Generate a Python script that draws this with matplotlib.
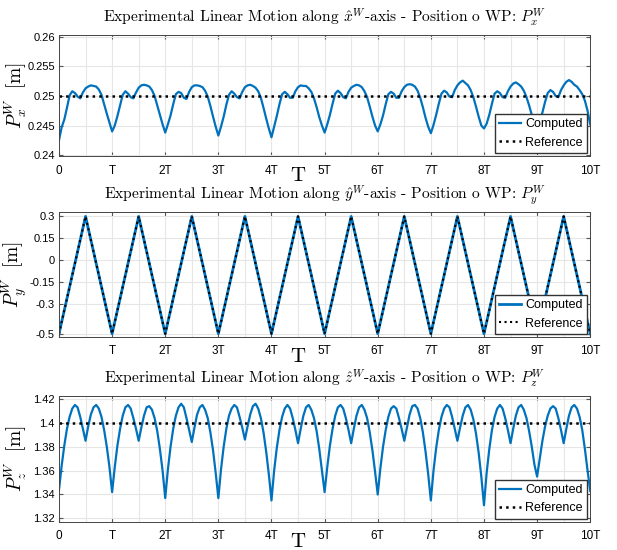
import numpy as np
import matplotlib
matplotlib.use("Agg")
import matplotlib.pyplot as plt
from matplotlib.ticker import MultipleLocator

plt.rcParams['mathtext.fontset'] = 'cm'
plt.rcParams['font.family'] = ['Liberation Sans Narrow', 'Liberation Sans', 'DejaVu Sans']

# time in units of the period T, sampled every 0.05 T
t = np.linspace(0, 10, 201)

# x position [m], one row per period
px = [
    0.2425, 0.2447, 0.2460, 0.2480, 0.2501, 0.2508, 0.2505, 0.2499, 0.2496, 0.2506, 0.2513, 0.2516, 0.2518, 0.2517, 0.2516, 0.2511, 0.2502, 0.2486, 0.2470, 0.2455,
    0.2440, 0.2450, 0.2466, 0.2484, 0.2502, 0.2508, 0.2504, 0.2498, 0.2496, 0.2506, 0.2514, 0.2518, 0.2519, 0.2518, 0.2516, 0.2510, 0.2500, 0.2484, 0.2468, 0.2452,
    0.2438, 0.2452, 0.2467, 0.2486, 0.2503, 0.2507, 0.2505, 0.2497, 0.2495, 0.2507, 0.2515, 0.2518, 0.2518, 0.2517, 0.2515, 0.2509, 0.2499, 0.2483, 0.2465, 0.2448,
    0.2433, 0.2448, 0.2465, 0.2485, 0.2502, 0.2508, 0.2504, 0.2498, 0.2496, 0.2507, 0.2515, 0.2518, 0.2519, 0.2517, 0.2514, 0.2508, 0.2497, 0.2480, 0.2462, 0.2445,
    0.2430, 0.2448, 0.2466, 0.2486, 0.2503, 0.2507, 0.2503, 0.2497, 0.2497, 0.2508, 0.2515, 0.2518, 0.2517, 0.2517, 0.2513, 0.2507, 0.2496, 0.2481, 0.2464, 0.2450,
    0.2438, 0.2452, 0.2468, 0.2487, 0.2504, 0.2509, 0.2505, 0.2498, 0.2496, 0.2507, 0.2514, 0.2517, 0.2519, 0.2518, 0.2515, 0.2508, 0.2498, 0.2482, 0.2465, 0.2450,
    0.2440, 0.2452, 0.2467, 0.2486, 0.2503, 0.2507, 0.2504, 0.2497, 0.2497, 0.2508, 0.2515, 0.2519, 0.2520, 0.2519, 0.2516, 0.2509, 0.2497, 0.2481, 0.2463, 0.2448,
    0.2437, 0.2451, 0.2468, 0.2487, 0.2504, 0.2509, 0.2506, 0.2499, 0.2498, 0.2510, 0.2518, 0.2523, 0.2526, 0.2522, 0.2518, 0.2510, 0.2498, 0.2482, 0.2465, 0.2450,
    0.2445, 0.2453, 0.2468, 0.2487, 0.2504, 0.2508, 0.2505, 0.2498, 0.2497, 0.2508, 0.2516, 0.2521, 0.2523, 0.2520, 0.2516, 0.2509, 0.2498, 0.2484, 0.2468, 0.2455,
    0.2448, 0.2458, 0.2472, 0.2490, 0.2505, 0.2510, 0.2507, 0.2500, 0.2498, 0.2510, 0.2518, 0.2524, 0.2527, 0.2524, 0.2519, 0.2516, 0.2510, 0.2503, 0.2492, 0.2475,
    0.2452,
]
px_ref = 0.25

# y position: triangle between the vertices (every half period)
t_vert = [0, 0.5, 1, 1.5, 2, 2.5, 3, 3.5, 4, 4.5, 5, 5.5, 6, 6.5, 7, 7.5, 8, 8.5, 9, 9.5, 10]
py = [-0.5, 0.3, -0.5, 0.3, -0.5, 0.3, -0.5, 0.3, -0.5, 0.3, -0.5,
      0.3, -0.5, 0.3, -0.5, 0.3, -0.5, 0.3, -0.5, 0.3, -0.5]
py_ref = [-0.5, 0.3, -0.5, 0.3, -0.5, 0.3, -0.5, 0.3, -0.5, 0.3, -0.5,
          0.3, -0.5, 0.3, -0.5, 0.3, -0.5, 0.3, -0.5, 0.3, -0.5]

# z position [m], one row per period
pz = [
    1.344, 1.364, 1.381, 1.395, 1.405, 1.412, 1.415, 1.413, 1.405, 1.395, 1.385, 1.397, 1.407, 1.413, 1.415, 1.412, 1.405, 1.394, 1.380, 1.363,
    1.342, 1.363, 1.381, 1.395, 1.406, 1.413, 1.415, 1.412, 1.404, 1.395, 1.385, 1.396, 1.406, 1.413, 1.414, 1.411, 1.404, 1.393, 1.378, 1.360,
    1.337, 1.361, 1.380, 1.395, 1.406, 1.413, 1.416, 1.413, 1.404, 1.394, 1.384, 1.396, 1.407, 1.413, 1.415, 1.411, 1.404, 1.392, 1.377, 1.358,
    1.337, 1.361, 1.380, 1.395, 1.406, 1.412, 1.415, 1.413, 1.405, 1.396, 1.386, 1.397, 1.407, 1.414, 1.416, 1.412, 1.404, 1.392, 1.376, 1.357,
    1.335, 1.360, 1.379, 1.394, 1.405, 1.412, 1.415, 1.412, 1.404, 1.394, 1.383, 1.395, 1.406, 1.413, 1.415, 1.411, 1.404, 1.393, 1.378, 1.360,
    1.342, 1.363, 1.381, 1.395, 1.406, 1.413, 1.415, 1.412, 1.404, 1.394, 1.383, 1.395, 1.406, 1.413, 1.415, 1.411, 1.404, 1.392, 1.377, 1.359,
    1.340, 1.362, 1.380, 1.394, 1.405, 1.412, 1.414, 1.412, 1.404, 1.395, 1.385, 1.396, 1.407, 1.414, 1.415, 1.412, 1.404, 1.392, 1.376, 1.357,
    1.335, 1.360, 1.379, 1.394, 1.405, 1.412, 1.415, 1.413, 1.405, 1.395, 1.385, 1.396, 1.406, 1.413, 1.415, 1.411, 1.403, 1.391, 1.375, 1.355,
    1.331, 1.358, 1.378, 1.394, 1.405, 1.412, 1.415, 1.412, 1.404, 1.394, 1.383, 1.395, 1.406, 1.413, 1.415, 1.411, 1.404, 1.393, 1.380, 1.365,
    1.355, 1.370, 1.385, 1.397, 1.406, 1.412, 1.414, 1.412, 1.404, 1.394, 1.383, 1.395, 1.406, 1.413, 1.415, 1.412, 1.405, 1.394, 1.378, 1.360,
    1.343,
]
pz_ref = 1.40

tick_pos = [0, 1, 2, 3, 4, 5, 6, 7, 8, 9, 10]
tick_lab = ['0', 'T', '2T', '3T', '4T', '5T', '6T', '7T', '8T', '9T', '10T']

blue = '#0072BD'

fig = plt.figure(figsize=(6.17, 5.5), dpi=100)
ax1 = fig.add_axes([0.0956, 0.716, 0.861, 0.220])
ax2 = fig.add_axes([0.0956, 0.387, 0.861, 0.227])
ax3 = fig.add_axes([0.0956, 0.051, 0.861, 0.229])


def style(ax, title, ylab, labels):
    ax.set_xlim(0, 10)
    ax.set_xticks(tick_pos)
    ax.set_xticklabels(labels)
    ax.xaxis.set_minor_locator(MultipleLocator(0.5))
    ax.grid(True, which='both', color='#e6e6e6', lw=0.8)
    ax.set_axisbelow(True)
    ax.tick_params(which='both', direction='in', top=True, right=True,
                   labelsize=8, color='#555555', length=3, pad=3)
    ax.tick_params(axis='x', pad=6, labelsize=8.5)
    ax.tick_params(which='minor', length=0)
    for s in ax.spines.values():
        s.set_color('#444444')
        s.set_linewidth(0.7)
    ax.set_title(title, fontfamily='cmr10', fontsize=11.2, pad=9)
    ax.set_ylabel(ylab, fontfamily='cmr10', fontsize=14)
    ax.yaxis.set_label_coords(-0.056, 0.5)
    ax.set_xlabel('T', fontfamily='cmr10', fontsize=15)
    ax.xaxis.set_label_coords(0.45, -0.09)
    ax.legend(loc='lower right', fontsize=9, fancybox=False, edgecolor='#333333',
              framealpha=1, borderaxespad=0.25, handlelength=1.8,
              borderpad=0.35, labelspacing=0.5, handletextpad=0.3)


ax1.plot(t, px, color=blue, lw=1.6, label='Computed')
ax1.plot([0, 10], [px_ref, px_ref], color='k', ls=':', lw=1.8, label='Reference')
ax1.set_ylim(0.2398, 0.2603)
ax1.set_yticks([0.24, 0.245, 0.25, 0.255, 0.26])
ax1.set_yticklabels(['0.24', '0.245', '0.25', '0.255', '0.26'])
style(ax1, r'Experimental Linear Motion along $\hat{x}^W$-axis - Position o WP: $P_x^W$',
      r'$P_x^W\ \ [\mathrm{m}]$', tick_lab)

ax2.plot(t_vert, py, color=blue, lw=2.0, label='Computed')
ax2.plot(t_vert, py_ref, color='k', ls=':', lw=1.5, label='Reference')
ax2.set_ylim(-0.523, 0.328)
ax2.set_yticks([-0.5, -0.3, -0.15, 0, 0.15, 0.3])
ax2.set_yticklabels(['-0.5', '-0.3', '-0.15', '0', '0.15', '0.3'])
style(ax2, r'Experimental Linear Motion along $\hat{y}^W$-axis - Position o WP: $P_y^W$',
      r'$P_y^W\ \ [\mathrm{m}]$', [''] + tick_lab[1:])

ax3.plot(t, pz, color=blue, lw=1.6, label='Computed')
ax3.plot([0, 10], [pz_ref, pz_ref], color='k', ls=':', lw=1.8, label='Reference')
ax3.set_ylim(1.317, 1.4225)
ax3.set_yticks([1.32, 1.34, 1.36, 1.38, 1.40, 1.42])
ax3.set_yticklabels(['1.32', '1.34', '1.36', '1.38', '1.4', '1.42'])
style(ax3, r'Experimental Linear Motion along $\hat{z}^W$-axis - Position o WP: $P_z^W$',
      r'$P_z^W\ \ [\mathrm{m}]$', tick_lab)

fig.savefig('out.png', dpi=100)
